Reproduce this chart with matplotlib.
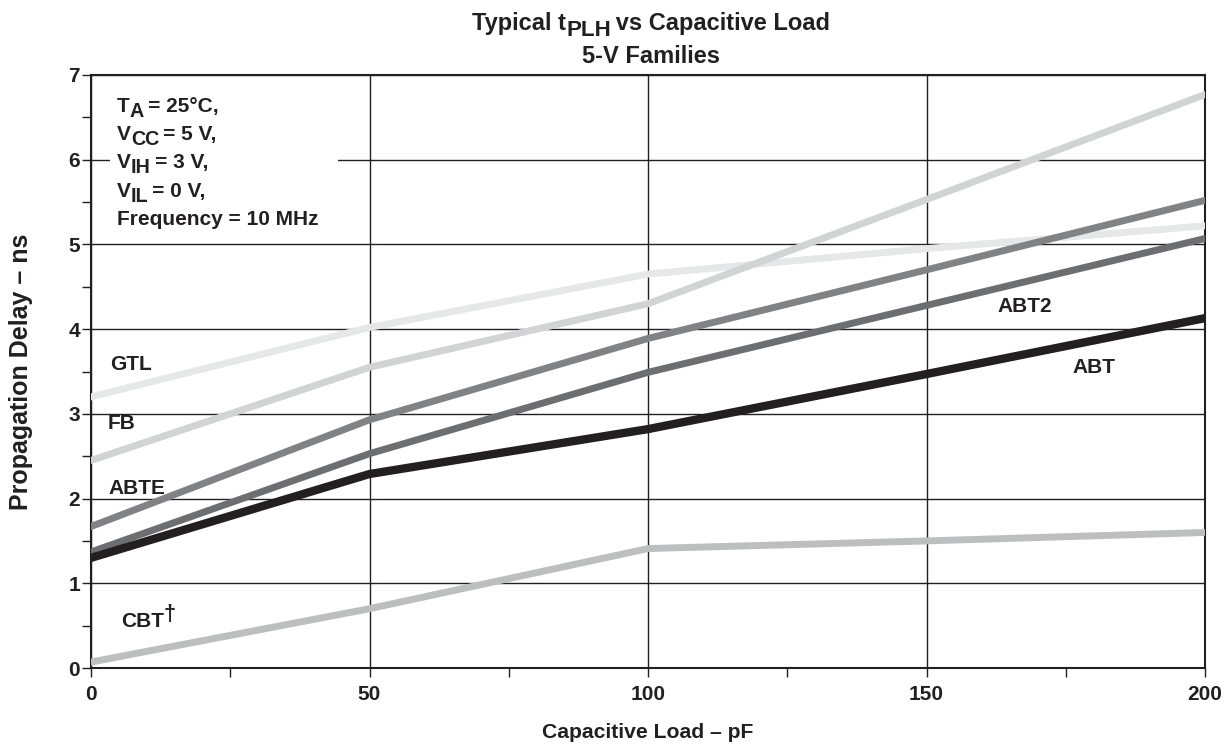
import matplotlib
matplotlib.use("Agg")
import matplotlib.pyplot as plt
from matplotlib.patches import Rectangle

plt.rcParams['font.family'] = ['Liberation Sans', 'DejaVu Sans']
plt.rcParams['font.weight'] = 'bold'

# ---- data ----
load_pf = [0, 50, 100, 150, 200]
gtl = [3.20, 4.02, 4.65, 4.95, 5.22]
fb = [2.45, 3.55, 4.30, 5.53, 6.77]
abte = [1.67, 2.93, 3.89, 4.70, 5.52]
abt2 = [1.37, 2.53, 3.49, 4.28, 5.07]
abt = [1.30, 2.29, 2.82, 3.47, 4.13]
cbt = [0.07, 0.70, 1.41, 1.50, 1.60]
x_ticks = [0, 50, 100, 150, 200]
y_ticks = [0, 1, 2, 3, 4, 5, 6, 7]

W, H = 1230, 747
fig = plt.figure(figsize=(W / 100, H / 100), dpi=100)
ax = fig.add_axes([91 / W, 1 - 668 / H, 1114 / W, 593 / H])

series = [
    (gtl, '#e6e7e8', 5.0),
    (fb, '#d1d3d4', 5.0),
    (cbt, '#bcbec0', 5.0),
    (abte, '#808285', 5.0),
    (abt2, '#6d6e71', 5.0),
    (abt, '#231f20', 6.0),
]
for ys, c, lw in series:
    ax.plot(load_pf, ys, color=c, lw=lw, solid_capstyle='round',
            solid_joinstyle='round', zorder=3)

ax.set_xlim(0, 200)
ax.set_ylim(0, 7)
ax.set_xticks(x_ticks)
ax.set_yticks(y_ticks)
ax.set_xticks([25, 75, 125, 175], minor=True)
ax.set_yticks([0.5 + i for i in range(7)], minor=True)
ax.grid(True, which='major', color='#231f20', lw=1.0, zorder=1)
ax.tick_params(which='both', direction='out', length=6.5, width=1.0, color='#231f20')
ax.tick_params(labelsize=15, labelcolor='#231f20')
ax.tick_params(axis='x', pad=6)
ax.tick_params(axis='y', pad=1.5)
for lab in ax.get_xticklabels() + ax.get_yticklabels():
    lab.set_fontweight('bold')
for sp in ax.spines.values():
    sp.set_color('#231f20')
    sp.set_linewidth(1.5)

ax.set_xlabel('Capacitive Load – pF', fontsize=15.2, fontweight='bold',
              color='#231f20', labelpad=0)
ax.xaxis.set_label_coords(0.5, (668 - 723) / 593)
ax.set_ylabel('Propagation Delay – ns', fontsize=18, fontweight='bold',
              color='#231f20')
ax.yaxis.set_label_coords((33 - 91) / 1114, 0.5)

# white box behind conditions
ax.add_patch(Rectangle((19 / 1114, (668 - 238) / 593), 228 / 1114, 155 / 593,
                       transform=ax.transAxes, facecolor='white',
                       edgecolor='none', zorder=2))

renderer = fig.canvas.get_renderer()


def rich(x_px, base_px, parts, size, ha='left', zorder=5):
    """parts: list of (text, dy_px, scale). x_px, base_px in figure px from top-left."""
    texts = []
    widths = []
    for s, dy, sc in parts:
        t = fig.text(0, 0, s, fontsize=size * sc, fontweight='bold',
                     color='#231f20', va='baseline', ha='left', zorder=zorder)
        w = t.get_window_extent(renderer).width
        texts.append((t, dy))
        widths.append(w)
    total = sum(widths)
    x = x_px - (total / 2 if ha == 'center' else 0)
    for (t, dy), w in zip(texts, widths):
        t.set_position((x / W, 1 - (base_px + dy) / H))
        x += w


sz = 15
rich(117, 112, [('T', 0, 1), ('A', 5, 0.95), ('\u2009= 25°C,', 0, 1)], sz)
rich(117, 140, [('V', 0, 1), ('CC', 5, 0.95), ('\u2009= 5 V,', 0, 1)], sz)
rich(117, 168, [('V', 0, 1), ('IH', 5, 0.95), ('\u2009= 3 V,', 0, 1)], sz)
rich(117, 197, [('V', 0, 1), ('IL', 5, 0.95), ('\u2009= 0 V,', 0, 1)], sz)
rich(117, 225, [('Frequency = 10 MHz', 0, 1)], sz)

# title
rich(651, 30, [('Typical t', 0, 1), ('PLH', 6, 0.95), ('\u2009vs Capacitive Load', 0, 1)],
     17, ha='center')
rich(651, 63, [('5-V Families', 0, 1)], 17, ha='center')

# series labels
rich(110, 370, [('GTL', 0, 1)], sz)
rich(108, 429, [('FB', 0, 1)], sz)
rich(108, 494, [('ABTE', 0, 1)], sz)
rich(121, 627, [('CBT', 0, 1), ('†', -7, 1.05)], sz)
rich(997, 312, [('ABT2', 0, 1)], sz)
rich(1072, 373, [('ABT', 0, 1)], sz)

fig.savefig('out.png', dpi=100, facecolor='white')
